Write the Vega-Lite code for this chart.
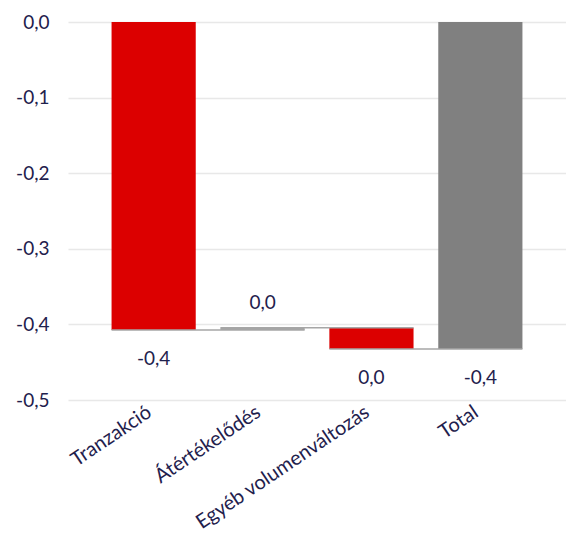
{
  "$schema": "https://vega.github.io/schema/vega-lite/v6.json",
  "autosize": {"type": "none"},
  "width": 498,
  "height": 378,
  "padding": {"left": 68, "top": 22, "right": 0, "bottom": 140},
  "config": {
    "view": {"stroke": null},
    "font": "Lato",
    "locale": {"number": {"decimal": ",", "thousands": " ", "grouping": [3], "currency": ["", ""], "minus": "-"}},
    "axis": {"labelFont": "Lato", "labelFontSize": 19, "labelColor": "#1f214d", "domain": false, "ticks": false, "title": null, "labelLimit": 400}
  },
  "datasets": {
    "steps": [
      {"cat": "Tranzakció", "start": 0, "end": -0.4075, "type": "csökkenés"},
      {"cat": "Átértékelődés", "start": -0.4075, "end": -0.4045, "type": "növekedés"},
      {"cat": "Egyéb volumenváltozás", "start": -0.4045, "end": -0.4325, "type": "csökkenés"},
      {"cat": "Total", "start": 0, "end": -0.4325, "type": "összesen"}
    ],
    "links": [
      {"from": "Tranzakció", "to": "Átértékelődés", "v": -0.4075},
      {"from": "Átértékelődés", "to": "Egyéb volumenváltozás", "v": -0.4045},
      {"from": "Egyéb volumenváltozás", "to": "Total", "v": -0.4325}
    ]
  },
  "layer": [
    {
      "data": {"name": "steps"},
      "mark": {"type": "bar"},
      "encoding": {
        "x": {"field": "cat", "type": "nominal", "sort": null,
          "scale": {"paddingInner": 0.227, "paddingOuter": 0.4},
          "axis": {"labelAngle": -34, "labelAlign": "right", "labelBaseline": "middle", "labelPadding": 10, "labelOffset": -4, "labelFontSize": 20, "grid": false}},
        "y": {"field": "start", "type": "quantitative",
          "scale": {"domain": [-0.5, 0], "nice": false, "zero": false},
          "axis": {"values": [-0.5, -0.4, -0.3, -0.2, -0.1, 0], "format": ".1f", "labelPadding": 19, "grid": true, "gridColor": "#e8e8e8", "gridWidth": 1.5}},
        "y2": {"field": "end"},
        "color": {"field": "type", "type": "nominal", "legend": null,
          "scale": {"domain": ["csökkenés", "növekedés", "összesen"], "range": ["#dc0000", "#a5a5a5", "#808080"]}}
      }
    },
    {
      "data": {"name": "links"},
      "mark": {"type": "rule", "color": "#a6a6a6", "strokeWidth": 1.5},
      "encoding": {
        "x": {"field": "from", "type": "nominal", "sort": null, "bandPosition": 0},
        "x2": {"field": "to", "bandPosition": 1},
        "y": {"field": "v", "type": "quantitative"}
      }
    },
    {
      "data": {"name": "steps"},
      "transform": [{"filter": "datum.end <= datum.start"}, {"calculate": "datum.end - datum.start", "as": "chg"}],
      "mark": {"type": "text", "dy": 29, "fontSize": 19, "color": "#1f214d", "baseline": "middle"},
      "encoding": {
        "x": {"field": "cat", "type": "nominal", "sort": null},
        "y": {"field": "end", "type": "quantitative"},
        "text": {"field": "chg", "type": "quantitative", "format": ".1f"}
      }
    },
    {
      "data": {"name": "steps"},
      "transform": [{"filter": "datum.end > datum.start"}, {"calculate": "datum.end - datum.start", "as": "chg"}],
      "mark": {"type": "text", "dy": -25, "fontSize": 19, "color": "#1f214d", "baseline": "middle"},
      "encoding": {
        "x": {"field": "cat", "type": "nominal", "sort": null},
        "y": {"field": "end", "type": "quantitative"},
        "text": {"field": "chg", "type": "quantitative", "format": ".1f"}
      }
    }
  ]
}
